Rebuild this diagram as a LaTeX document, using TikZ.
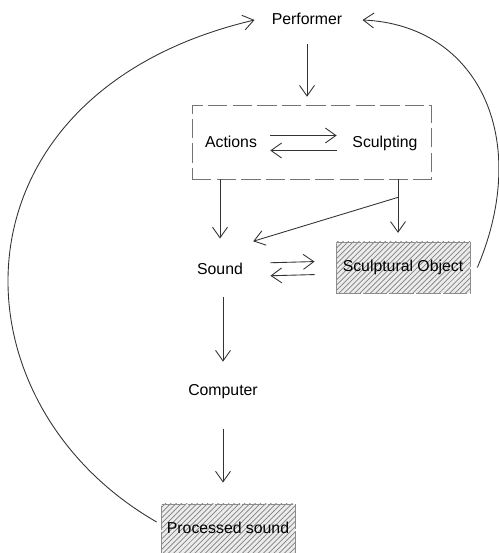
\documentclass[tikz,border=0pt]{standalone}
\usepackage{fontspec}
\setmainfont{Liberation Sans}
\usetikzlibrary{arrows.meta, positioning, calc, patterns}

\begin{document}
\begin{tikzpicture}[
    lbl/.style={font=\fontsize{9}{11}\selectfont, inner sep=0pt,
      text height=6.5pt, text depth=1.9pt},
    arr/.style={draw=black!80, line width=0.5pt,
      -{Straight Barb[length=6pt,width=8.5pt]}},
    hatched/.style={lbl, draw=black!45, dash pattern=on 14pt off 1.2pt,
      preaction={fill=gray!15}, pattern=north east lines,
      pattern color=gray, minimum width=2.68cm, minimum height=1.02cm},
    corebox/.style={draw=black!55, dash pattern=on 11pt off 3pt,
      minimum width=4.78cm, minimum height=1.48cm}
  ]
  \useasboundingbox (0,0) rectangle (9.96,11.06);

  % Nodes
  \node[lbl] (performer) at (6.14,10.66) {Performer};
  \node[corebox] (core) at (6.23,8.22) {};
  \node[lbl] (actions) at (4.62,8.2) {Actions};
  \node[lbl] (sculpting) at (7.7,8.2) {Sculpting};
  \node[lbl] (sound) at (4.4,5.66) {Sound};
  \node[hatched] (object) at (8.06,5.71) {Sculptural Object};
  \node[lbl] (computer) at (4.46,3.24) {Computer};
  \node[hatched] (processed) at (4.56,0.47) {Processed sound};

  % Straight arrows
  \draw[arr, shorten <=9pt, shorten >=4.5pt]
    (performer.south) -- (performer.south |- core.north);
  \draw[arr, shorten <=7.4pt, shorten >=8.8pt]
    ([yshift=0.15cm]actions.east) -- ([yshift=0.15cm]sculpting.west);
  \draw[arr, shorten <=8.8pt, shorten >=7.4pt]
    ([yshift=-0.15cm]sculpting.west) -- ([yshift=-0.15cm]actions.east);
  \draw[arr, shorten >=13.5pt] (core.south -| sound.north) -- (sound.north);
  \draw[arr, shorten >=5pt]
    ([xshift=-0.1cm]core.south -| object.north) -- ([xshift=-0.1cm]object.north);
  \coordinate (split) at ($(core.south -| object.north)+(-0.1,-0.36)$);
  \draw[arr] (split) -- ($(sound.north east)+(0.2,0.42)$);
  \draw[arr, shorten <=15.5pt, shorten >=12pt]
    ([yshift=0.13cm]sound.east) -- ([yshift=0.13cm]object.west);
  \draw[arr, shorten <=12pt, shorten >=15.5pt]
    ([yshift=-0.13cm]object.west) -- ([yshift=-0.13cm]sound.east);
  \draw[arr, shorten <=11pt, shorten >=12.3pt]
    (sound.south -| computer.north) -- (computer.north);
  \draw[arr, shorten <=17pt, shorten >=12pt]
    (computer.south) -- (computer.south |- processed.north);

  % Feedback arcs
  \draw[arr] ([xshift=0.14cm]object.east)
    .. controls +(1.1,2.6) and +(2.3,-0.1) .. ([xshift=0.4cm]performer.east);
  \draw[arr] ([shift={(-0.08,0.15)}]processed.west)
    .. controls +(-4.24,2.44) and +(-6.2,-1.46) .. ([xshift=-0.34cm]performer.west);
\end{tikzpicture}
\end{document}
